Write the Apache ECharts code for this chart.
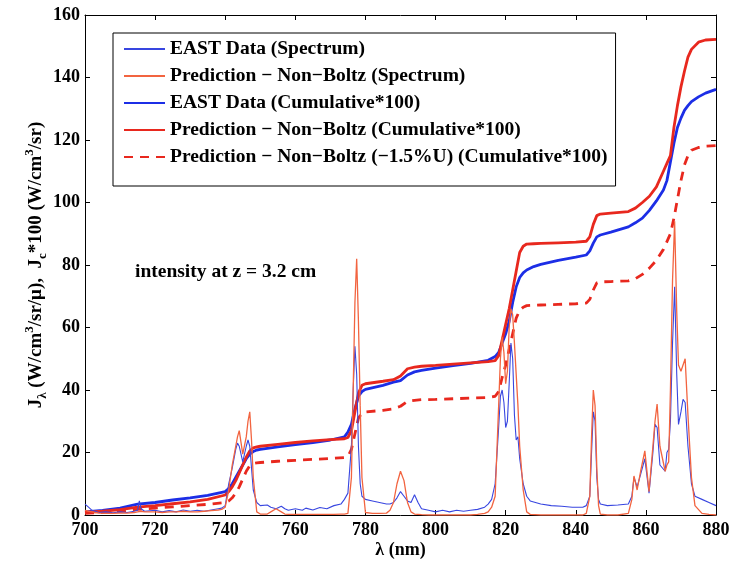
<!DOCTYPE html>
<html><head><meta charset="utf-8">
<script src="https://cdn.jsdelivr.net/npm/echarts@6/dist/echarts.min.js"></script>
<style>html,body{margin:0;padding:0;background:#fff}#c{width:730px;height:562px}</style>
</head><body><div id="c"></div>
<script>
const xTicks = [700,720,740,760,780,800,820,840,860,880];
const yTicks = [0,20,40,60,80,100,120,140,160];

const specWl = [700,701,702,704,706,708,710,712,714,715,715.5,716,717,720,722,724,726,728,730,732,734,736,738,739,740,741,742,743,743.5,744,745,746,746.5,747,747.5,748,749,750,752,753,754.5,756,757,758,760,762,763,765,767,769,771,773,774,775,776,776.5,777,777.5,778,778.5,779,780,782,784,786,787,788,789,790,791,792,793,794,795,796,798,800,802,804,806,808,810,812,814,815,816,817,818,818.5,819,819.5,820,820.5,821,821.5,822,822.5,823,823.5,824,825,826,827,830,833,836,839,842,843,844,844.5,845,845.5,846,846.5,847,849,852,855,856,856.6,857.5,858.5,859.7,860.9,862,862.6,863.2,864,865.5,866,866.5,867,867.6,868.2,868.8,869.3,870,870.6,871.2,872,873,874,876,878,880];
const eastSpec = [3.5,2.5,1.5,0.8,1,0.7,1,0.8,1.2,1.5,4.5,2,1.2,1.5,1,1.4,1,1.6,1.2,1.5,1.2,1.6,2,2.2,3,10,15,21,23,22,17,22,24,22,15,8,4,3,3.2,2.5,2,2.8,2,1.5,2,1.5,2.2,1.6,2.4,2,3,3.5,5,7,22,40,54,45,22,10,6,5,4.5,4,3.5,3.5,4,5.5,7.5,6,4.5,4,6.5,4,2,1.5,1,1.5,1,1.5,1.2,1.5,1.8,2.5,3.5,5,10,28,38,40,36,28,30,42,55,50,32,24,25,18,10,6,4.5,3.5,3,2.8,2.5,2.5,3,6,20,33,30,12,5,3.5,3,3.2,3.5,6,12,9,13,18,7,20,29,28,16,14,20,21,30,55,73,45,29,33,37,36,22,10,6,5,4,3];
const predSpec = [1.5,1.2,1,0.6,0.5,0.5,0.6,0.6,0.8,1,1.2,1.2,1,1,0.8,1,1,1.2,1,1,1.2,1.4,1.6,1.8,2.5,8,16,22,25,27,19.5,25,30,33,24,12,1,0.3,0.3,1,2,1,0.3,0.2,0.2,0.2,0.2,0.2,0.2,0.2,0.2,0.3,0.3,0.5,12,40,68,82,62,35,12,0.8,0.5,0.5,0.6,1.5,4,10,14,11,4,1,0.3,0.2,0.1,0,0,0,0,0,0,0,0.2,0.5,1,2.5,6,35,50,57,52,42,46,60,66,64,55,45,35,22,8,1,0.2,0,0,0,0,0,0.5,6,25,40,35,15,3,0.3,0,0,0.5,5,12.5,8,14,20.5,7.5,22,30,35.5,22,14,16,17,40,75,94,65,48,46,48,50,32,12,3,0.5,0.2,0];

const cumWl = [700,705,710,715,720,725,730,735,740,741,742,743,744,745,746,747,748,749,750,755,760,765,770,774,775,776,777,778,779,780,785,788,790,792,794,796,800,805,810,815,817,818,819,820,821,822,823,824,825,826,828,830,835,840,843,844,845,846,847,850,855,857,859,861,863,865,866,867,868,869,870,871,872,873,875,877,880];
const eastCum = [1.0,1.5,2.2,3.5,4.0,4.8,5.5,6.3,7.5,8.5,10,12,14,16,18,19.5,20.3,20.8,21.0,21.8,22.5,23.2,24,25,26.5,29,34,38,39.5,40.2,41.5,42.5,43,44.8,45.8,46.3,47,47.8,48.5,49.5,50.7,52,55,58,62,68,73,76,77.5,78.4,79.5,80.2,81.5,82.5,83.2,84.5,87,89,89.6,90.5,92.2,93.5,95,97.5,100.5,104,107,113,119,124,127,129.5,131,132.3,133.8,135,136.2];
const predCum = [0.8,1.2,1.7,2.5,3,3.6,4.2,5,6.4,7.5,9,11,13.5,16,18.5,20.5,21.5,21.8,22,22.6,23.2,23.7,24.1,24.4,24.8,27,33,39,41.5,42,42.8,43.3,44.5,46.8,47.3,47.6,47.9,48.3,48.7,49.1,49.4,51,56,61,66,72,78,84,86,86.7,86.8,86.9,87.1,87.3,87.6,89,93,95.8,96.3,96.6,97.1,98.2,100,102,105,110,112.5,115,124,131,137,142,146.5,149,151.3,152,152.2];
const predCumLow = [0.5,0.8,1.2,1.8,2.2,2.6,3,3.4,4,4.5,5.5,7,9,11.5,14,15.8,16.5,16.7,16.8,17.2,17.5,17.8,18.1,18.4,18.7,21,26,31,32.6,33,33.5,34,34.8,36.4,36.7,36.9,37,37.2,37.4,37.6,38,39.5,44,48,53,58,63,65.5,66.5,67,67.1,67.2,67.4,67.6,67.8,69,72,74.3,74.6,74.7,74.9,75.6,77,79,81.5,85,87.5,90,95,101,107,112,115,116.7,117.6,118,118.2];

const seriesNames = ['EAST Data (Spectrum)','Prediction − Non−Boltz (Spectrum)','EAST Data (Cumulative*100)','Prediction − Non−Boltz (Cumulative*100)','Prediction − Non−Boltz (−1.5%U) (Cumulative*100)'];

const zip = (xs, ys) => xs.map((x, i) => [x, ys[i]]);
const FONT = 'Liberation Serif';

const chart = echarts.init(document.getElementById('c'), null, {renderer: 'canvas'});
const axisLabelStyle = {color: '#000', fontFamily: FONT, fontWeight: 'bold', fontSize: 18};
const tickStyle = {show: true, inside: true, length: 5, lineStyle: {color: '#000', width: 1}};
const lineStyleAx = {show: true, onZero: false, lineStyle: {color: '#000', width: 1}};

chart.setOption({
  animation: false,
  backgroundColor: '#fff',
  grid: {left: 85, right: 14, top: 15, bottom: 47, containLabel: false, outerBoundsMode: 'none'},
  legend: {
    orient: 'vertical', left: 113, top: 33,
    data: seriesNames,
    backgroundColor: '#fff', borderColor: '#000', borderWidth: 1,
    padding: [6, 8, 19, 10], itemGap: 7, itemWidth: 41, itemHeight: 20,
    itemStyle: {opacity: 0},
    textStyle: {color: '#000', fontFamily: FONT, fontWeight: 'bold', fontSize: 19.5, lineHeight: 20}
  },
  xAxis: [
    {type: 'value', min: 700, max: 880, interval: 20, position: 'bottom',
     name: 'λ (nm)', nameLocation: 'middle', nameGap: 26, nameMoveOverlap: false,
     nameTextStyle: {color: '#000', fontFamily: FONT, fontWeight: 'bold', fontSize: 18},
     axisLine: lineStyleAx, axisTick: tickStyle, splitLine: {show: false},
     axisLabel: Object.assign({margin: 6}, axisLabelStyle)},
    {type: 'value', min: 700, max: 880, interval: 20, position: 'top',
     axisLine: lineStyleAx, axisTick: tickStyle, splitLine: {show: false}, axisLabel: {show: false}}
  ],
  yAxis: [
    {type: 'value', min: 0, max: 160, interval: 20, position: 'left',
     name: '{b|J}{sub|λ}{b| (W/cm}{sup|3}{b|/sr/μ),  J}{sub|c}{b|*100 (W/cm}{sup|3}{b|/sr)}',
     nameLocation: 'middle', nameGap: 36, nameRotate: 90, nameMoveOverlap: false,
     nameTextStyle: {
       rich: {
         b: {color: '#000', fontFamily: FONT, fontWeight: 'bold', fontSize: 19, lineHeight: 26, verticalAlign: 'middle'},
         sub: {color: '#000', fontFamily: FONT, fontWeight: 'bold', fontSize: 13, lineHeight: 13, verticalAlign: 'bottom'},
         sup: {color: '#000', fontFamily: FONT, fontWeight: 'bold', fontSize: 13, lineHeight: 13, verticalAlign: 'top'}
       }
     },
     axisLine: lineStyleAx, axisTick: tickStyle, splitLine: {show: false},
     axisLabel: Object.assign({margin: 5}, axisLabelStyle)},
    {type: 'value', min: 0, max: 160, interval: 20, position: 'right',
     axisLine: lineStyleAx, axisTick: tickStyle, splitLine: {show: false}, axisLabel: {show: false}}
  ],
  graphic: [
    {type: 'text', left: 135, top: 262,
     style: {text: 'intensity at z = 3.2 cm', fill: '#000', font: 'bold 19.5px "Liberation Serif"'}}
  ],
  series: [
    {name: seriesNames[0], type: 'line', data: zip(specWl, eastSpec), symbol: 'none', z: 3,
     lineStyle: {color: '#3846e0', width: 1.1}, itemStyle: {color: '#3846e0'}},
    {name: seriesNames[1], type: 'line', data: zip(specWl, predSpec), symbol: 'none', z: 3,
     lineStyle: {color: '#f26440', width: 1.3}, itemStyle: {color: '#f26440'}},
    {name: seriesNames[2], type: 'line', data: zip(cumWl, eastCum), symbol: 'none', z: 2,
     lineStyle: {color: '#1c2ee6', width: 2.8}, itemStyle: {color: '#1c2ee6'}},
    {name: seriesNames[3], type: 'line', data: zip(cumWl, predCum), symbol: 'none', z: 2,
     lineStyle: {color: '#e8281e', width: 2.8}, itemStyle: {color: '#e8281e'}},
    {name: seriesNames[4], type: 'line', data: zip(cumWl, predCumLow), symbol: 'none', z: 2,
     lineStyle: {color: '#e8281e', width: 2.8, type: [9, 7]}, itemStyle: {color: '#e8281e'}}
  ]
});
</script>
</body></html>
